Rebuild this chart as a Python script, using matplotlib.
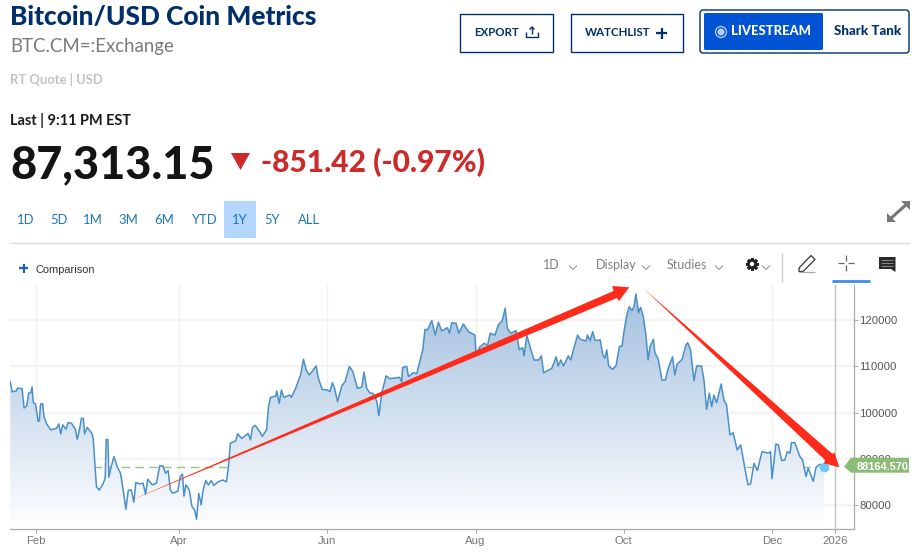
#!/usr/bin/env python3

import numpy as np
import matplotlib
matplotlib.use('Agg')
import matplotlib.pyplot as plt
from matplotlib.patches import Polygon, Rectangle, FancyBboxPatch, Circle

plt.rcParams['font.family'] = ['Lato', 'DejaVu Sans']

# day of year 2025 / price
days = [20.5,21.3,23,23.5,25.4,26.2,27.3,28.1,29,29.5,30,30.9,32,32.5,33,33.9,34.4,35.5,37.2,39.6,
        40.5,41.3,42.1,43.5,44.3,45.7,47.3,48.1,49,49.8,50.6,51.1,52.2,54.2,54.7,55.4,56,57.2,58.8,59.6,
        60,60.7,61.1,61.9,63.2,64.5,65.9,67,68.1,69.1,70.3,71.4,72.2,73.9,75.2,76.2,77.1,79,80.7,82,
        83.4,84.4,85.5,86.4,87.3,89.5,90.5,91.4,92,92.8,94.2,95.3,96.4,97.2,98.1,99.1,99.9,101,102.1,103.2,
        104.3,106,108,109.5,110.3,111.1,112,113.3,114.1,115.8,118.4,119.4,120.2,121.3,123.2,124.3,126,126.8,127.6,129.8,
        130.2,131.2,132.1,133.1,135.6,136.2,138,140,141.2,142.3,143.6,145,146.4,147.3,148.9,151,152.1,153.1,154,155.2,
        157,158.3,160.1,161.5,163.4,165.2,166.1,167.2,168.6,169.7,171.4,172.2,173.4,175.2,176.8,180.7,181.6,182,183.7,184.4,
        186.4,187.8,189.2,190.3,191.2,192.2,194,195.4,196.7,198.1,200.4,201.3,202.2,204,205.1,207,209.1,211.7,212.2,213.9,
        215.5,217,218,220,221.4,223,224.2,225.1,226.5,228.7,230,231.4,232,233.1,234.4,236.1,238,239.1,240,243.4,
        245.2,246,247.1,248.2,250.2,251.2,252.3,254,255,257.5,258,259.2,260.2,261.2,263.3,264.4,265.2,266,266.8,268.4,
        269.8,271.2,272.3,273.1,274.4,275.3,276.4,277.2,278,279.1,279.9,281,282.1,283,283.8,285.2,285.8,287.2,288.7,290.1,
        291.3,293.1,294,295,297,298.6,299.3,300.5,301.9,303,305,306,307.1,308.2,309.2,310.1,311.2,313.1,314.2,315.3,
        316.7,318,319.7,321.1,322.5,324.1,325.2,326.6,328,329.9,332.5,333.4,334,335.6,336.6,338,339.3,340.3,341.4,342,
        343.4,345.5,346.6,348,348.9,351,352.1,353.7,355.4]
prices = [106700,104500,104700,105300,105200,101000,101450,104200,104350,105550,102150,101900,98100,98250,101900,101900,99150,97550,96250,96600,
          97550,95400,97350,96400,97850,97700,96400,94200,96250,98750,98750,95400,96800,95400,94200,88450,83900,83200,84700,85800,
          94200,94200,86000,87950,90450,88300,86850,83250,79050,83150,83250,80600,84850,84550,84700,82300,85550,84350,84700,88450,
          88450,86850,87450,83250,82550,82950,86150,86700,81900,84350,83250,79650,78900,76900,82500,80000,83250,85300,84300,85300,
          84200,85000,85400,85000,88300,93350,93600,93850,95400,94400,95500,94100,96800,97250,95850,94850,96300,101300,103300,103600,
          104700,102000,104900,103300,103800,103300,105300,108150,111550,109250,108150,109100,110100,107450,105050,104900,104550,106500,105250,102400,
          105800,106700,110000,108900,105250,105500,108800,105250,104200,104200,102400,99300,104200,107950,107350,107650,106700,109800,110000,107800,
          108650,108400,111400,113700,118050,117900,119950,116800,119550,117700,118400,117200,119500,119350,117200,119200,117550,116800,112700,114300,
          115000,114650,117200,116800,119000,119950,122600,118250,117200,117750,113600,114100,112300,116800,114300,111400,111400,112300,108650,109600,
          112100,110100,111400,110100,112300,111400,113600,116800,115900,115500,116800,115600,117550,115600,115750,112500,111800,113600,110100,109400,
          110100,114300,114450,117550,121500,122950,122100,122950,125700,121650,122800,120950,116800,111400,114300,115900,113000,111550,107050,107050,
          109600,112100,108150,110550,111550,114650,115150,113550,106950,110100,110100,107050,100700,104200,101300,103800,102150,106200,102750,101650,
          95150,95650,91900,93000,89000,84350,84550,89000,87450,91550,91200,91550,85650,93200,93000,89600,89750,91550,91200,93500,
          93500,90450,89750,86150,87950,85100,88150,88800,88300]
last_price = 88164.570

month_days = [31, 90, 151, 212, 273, 334, 360.1]
month_labels = ['Feb', 'Apr', 'Jun', 'Aug', 'Oct', 'Dec', '2026']
price_ticks = [80000, 90000, 100000, 110000, 120000]

range_tabs = ['1D', '5D', '1M', '3M', '6M', 'YTD', '1Y', '5Y', 'ALL']
range_tab_x = [26, 59, 93, 128, 164, 203.5, 240, 272.5, 309]

W, H = 915, 552
NAVY = '#002f6c'
RED = '#cc2b2b'
ARROW = '#ff2a1a'
fig = plt.figure(figsize=(W/100, H/100), dpi=100, facecolor='white')

# chart
ax = fig.add_axes([10/W, 1-529/H, 844/W, 244/H])
xmin, xmax = 20.42, 367.75
ymin, ymax = 74778, 127650

grad = np.ones((256, 2, 4))
grad[..., 0] = np.linspace(0.62, 1.0, 256)[:, None]
grad[..., 1] = np.linspace(0.74, 1.0, 256)[:, None]
grad[..., 2] = np.linspace(0.87, 1.0, 256)[:, None]
grad[..., 3] = 0.95
img = ax.imshow(grad, extent=[days[0], days[-1], ymin, 126000], origin='upper', aspect='auto', zorder=2)
poly = Polygon(list(zip(days, prices)) + [(days[-1], ymin), (days[0], ymin)], transform=ax.transData, fc='none', ec='none')
ax.add_patch(poly)
img.set_clip_path(poly)

ax.axhline(last_price, xmin=0, xmax=(days[-1]-xmin)/(xmax-xmin), color='#8fc97a', lw=1, dashes=(6, 4), zorder=1)
ax.plot(days, prices, color='#4a90c8', lw=1.1, zorder=3)
ax.plot([days[-1]], [last_price], 'o', ms=7, color='#6cc8f5', mec='none', zorder=4)

ax.set_xlim(xmin, xmax)
ax.set_ylim(ymin, ymax)
ax.set_xticks(month_days)
ax.set_xticklabels(month_labels, fontsize=8.2, color='#777777', family=['Liberation Sans'])
ax.yaxis.tick_right()
ax.set_yticks(price_ticks)
ax.set_yticklabels(['%d' % p for p in price_ticks], fontsize=8.2, color='#555555', family=['Liberation Sans'])
ax.tick_params(axis='x', length=3, color='#aaaaaa', pad=2)
ax.tick_params(axis='y', length=3, color='#aaaaaa', pad=1)
ax.grid(True, axis='y', color='#f3f3f3', lw=1.6, zorder=0)
ax.grid(True, axis='x', color='#f1f1f1', lw=0.9, zorder=0)
ax.set_axisbelow(True)
ax.axvline(month_days[-1], color='#c4c4c4', lw=1, zorder=1)
for s in ['top', 'left']:
    ax.spines[s].set_visible(False)
for s in ['bottom', 'right']:
    ax.spines[s].set_color('#aaaaaa')
    ax.spines[s].set_linewidth(0.9)

# page bits, in pixels
ui = fig.add_axes([0, 0, 1, 1], facecolor='none')
ui.set_xlim(0, W)
ui.set_ylim(H, 0)
ui.axis('off')

def label(x, y, s, size, color, weight='normal', ha='left', va='baseline', fam=None, z=6):
    ui.text(x, y, s, fontsize=size*0.72, color=color, fontweight=weight, ha=ha, va=va,
            family=fam or ['Lato', 'DejaVu Sans'], zorder=z)

def seg(x, y, color, lw=1):
    ui.plot(x, y, color=color, lw=lw, solid_capstyle='butt')

def chevron(x, y):
    seg([x-4, x, x+4], [y-2.5, y+1.5, y-2.5], '#999999', 0.8)

label(10, 25, 'Bitcoin/USD Coin Metrics', 26.3, NAVY, 900)
label(10, 52, 'BTC.CM=:Exchange', 18.7, '#7a7a7a')
label(10, 84, 'RT Quote | USD', 13, '#c2c2c2', 'bold')
label(10, 125, 'Last | 9:11 PM EST', 14.5, '#1a1a1a', 'bold')
label(10, 178, '87,313.15', 45, '#141414', 900)
ui.add_patch(Polygon([(231, 153), (250, 153), (240.5, 170)], fc=RED, ec='none'))
label(261, 172, '-851.42 (-0.97%)', 30, RED, 900)

ui.add_patch(Rectangle((224, 201), 32, 37, fc='#b3d7ff', ec='none'))
for tx, t in zip(range_tab_x, range_tabs):
    label(tx, 224, t, 13, '#1f74b8', ha='center')
seg([10, 910], [242.5, 242.5], '#dddddd', 1)

# buttons
ui.add_patch(Rectangle((459.5, 13.5), 93, 38, fc='white', ec=NAVY, lw=1))
label(474, 36, 'EXPORT', 11.5, NAVY, 'bold')
seg([526, 526, 538, 538], [32, 37, 37, 32], NAVY, 1)
seg([532, 532], [27, 34], NAVY, 1)
seg([529.5, 532, 534.5], [29.5, 27, 29.5], NAVY, 1)
ui.add_patch(Rectangle((570.5, 13.5), 112, 38, fc='white', ec=NAVY, lw=1))
label(585, 36, 'WATCHLIST', 11.5, NAVY, 'bold')
seg([656, 667], [33, 33], NAVY, 1.6)
seg([661.5, 661.5], [27.5, 38.5], NAVY, 1.6)
ui.add_patch(FancyBboxPatch((700, 10), 209, 43, boxstyle='round,pad=0,rounding_size=3', fc='white', ec=NAVY, lw=1))
ui.add_patch(FancyBboxPatch((704, 13), 119, 37, boxstyle='round,pad=0,rounding_size=1.5', fc='#0053d3', ec='none'))
ui.add_patch(Circle((721, 32), 5.5, fc='none', ec='#b8d0f5', lw=0.9))
ui.add_patch(Circle((721, 32), 3.5, fc='#b8d0f5', ec='none'))
label(731, 35, 'LIVESTREAM', 13, 'white', 900)
label(834, 35, 'Shark Tank', 13.4, NAVY, 900)

# toolbar
seg([19, 28], [268, 268], '#1f5fb5', 1.6)
seg([23.5, 23.5], [263.5, 272.5], '#1f5fb5', 1.6)
label(35, 273, 'Comparison', 11, '#333333', fam=['Liberation Sans'])
label(543, 269, '1D', 12.5, '#808080')
chevron(573, 268)
label(596, 269, 'Display', 12.5, '#808080')
chevron(646, 268)
label(667, 269, 'Studies', 12.5, '#808080')
chevron(719, 268)
# gear
ui.add_patch(Circle((752, 264), 3.6, fc='none', ec='#222222', lw=1.9))
ui.plot([752], [264], marker=(8, 2, 0), ms=9, mew=2, color='#222222', zorder=1)
ui.add_patch(Circle((752, 264), 2.2, fc='white', ec='none', zorder=3))
chevron(766, 268)
seg([782, 782], [253, 282], '#cccccc', 1)
seg([799, 811, 815, 803, 799, 799], [268, 255.5, 259.5, 271.5, 271.5, 268], '#333333', 0.9)
seg([799, 815], [272, 272], '#aaaaaa', 0.9)
seg([838, 844], [263, 263], '#666666', 0.9)
seg([848, 854], [263, 263], '#666666', 0.9)
seg([846, 846], [255, 261], '#666666', 0.9)
seg([846, 846], [265, 271], '#666666', 0.9)
seg([832, 870], [281, 281], '#3d8bf0', 2)
ui.add_patch(Polygon([(879, 257), (895.5, 257), (895.5, 272), (891, 269), (879, 269)], fc='#2a2a2a', ec='none'))
for yy in [260, 263, 266]:
    seg([881, 893], [yy, yy], '#8a8a8a', 0.7)
# expand icon
seg([889, 908], [220, 203], '#777777', 2.2)
ui.add_patch(Polygon([(887, 222), (887, 213), (896, 222)], fc='#777777', ec='none'))
ui.add_patch(Polygon([(910, 201), (910, 210), (901, 201)], fc='#777777', ec='none'))

# hand drawn red arrows, tail fades to a point
ui.add_patch(Polygon([(127, 502), (613.5, 291), (612.3, 286), (629.3, 287.3), (619, 301), (617, 298)], fc=ARROW, ec='none', zorder=5))
ui.add_patch(Polygon([(643, 288), (832.5, 454), (834.3, 452.3), (839.3, 467.3), (824, 463.3), (825, 460)], fc=ARROW, ec='none', zorder=5))

# price flag
ui.add_patch(Polygon([(844, 466.7), (851, 457.7), (909, 457.7), (909, 472.7), (851, 472.7)], fc='#8dbb78', ec='none', zorder=4))
label(857, 470, '88164.570', 11, 'white', 'bold', fam=['Liberation Sans'])

fig.savefig('out.png', dpi=100, facecolor='white')
